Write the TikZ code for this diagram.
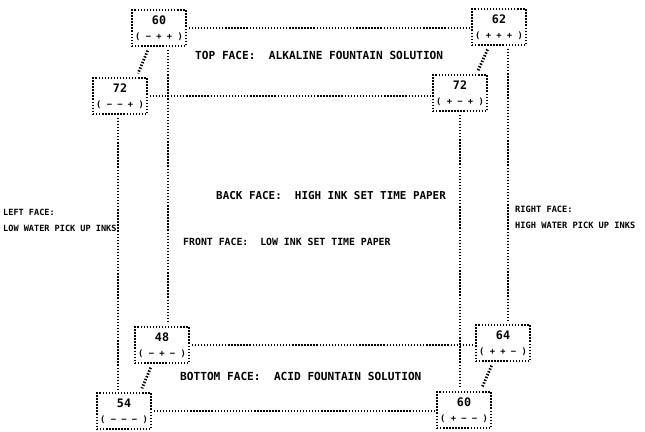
\documentclass[tikz,border=0pt]{standalone}
\usepackage{fontspec}
\setmonofont{DejaVu Sans Mono}
\usetikzlibrary{calc}

\begin{document}
\begin{tikzpicture}[
  x=0.03cm, y=-0.03cm,
  every node/.style={font=\ttfamily\bfseries\fontsize{9}{13.6}\selectfont},
  dots/.style={line width=2.4pt, dash pattern=on 1.2pt off 1.4pt},
  corner/.style={draw, dots, align=center, minimum width=1.62cm, minimum height=1.08cm, inner sep=1pt, font=\ttfamily\bfseries\fontsize{10}{13}\selectfont},
  face/.style={anchor=west, align=left, inner sep=0pt}
]
  \useasboundingbox (0,0) rectangle (645,432);

  % corners of the cube
  \node[corner] (tbl) at (159,28)  {60\\{\fontsize{7.5}{8}\selectfont( − + + )}};
  \node[corner] (tbr) at (499,27)  {62\\{\fontsize{7.5}{8}\selectfont( + + + )}};
  \node[corner] (tfl) at (120,96)  {72\\{\fontsize{7.5}{8}\selectfont( − − + )}};
  \node[corner] (tfr) at (460,93)  {72\\{\fontsize{7.5}{8}\selectfont( + − + )}};
  \node[corner] (bbl) at (162,345) {48\\{\fontsize{7.5}{8}\selectfont( − + − )}};
  \node[corner] (bbr) at (503,343) {64\\{\fontsize{7.5}{8}\selectfont( + + − )}};
  \node[corner] (bfl) at (124,411) {54\\{\fontsize{7.5}{8}\selectfont( − − − )}};
  \node[corner] (bfr) at (464,410) {60\\{\fontsize{7.5}{8}\selectfont( + − − )}};

  % edges
  \foreach \a/\b in {tbl/tbr, tfl/tfr, bbl/bbr, bfl/bfr}
    \draw[dots, shorten <=1pt, shorten >=1pt] (\a.east) -- (\a.east -| \b.west);
  \foreach \a/\b/\s in {tbl/bbl/0.27cm, tbr/bbr/0.27cm, tfl/bfl/-0.06cm, tfr/bfr/0cm}
    \draw[dots, shorten <=2pt, shorten >=2pt] ([xshift=\s]\a.south) -- ([xshift=\s]\a.south |- \b.north);
  \foreach \a/\b in {tbl/tfl, tbr/tfr, bbl/bfl, bbr/bfr}
    \draw[dots, shorten <=3pt, shorten >=3pt] ([xshift=-0.3cm]\a.south) -- ([xshift=0.5cm]\b.north);

  % faces
  \node[face, font=\ttfamily\bfseries\fontsize{9.5}{12}\selectfont] (top) at (195,55) {TOP FACE:\ \ ALKALINE FOUNTAIN SOLUTION};
  \node[face, font=\ttfamily\bfseries\fontsize{9.3}{12}\selectfont] (back) at (216,196) {BACK FACE:\ \ HIGH INK SET TIME PAPER};
  \node[face, font=\ttfamily\bfseries\fontsize{8.4}{12}\selectfont] (front) at (183,242) {FRONT FACE:\ \ LOW INK SET TIME PAPER};
  \node[face, font=\ttfamily\bfseries\fontsize{7.3}{13.6}\selectfont] (left) at (3,220) {LEFT FACE:\\LOW WATER PICK UP INKS};
  \node[face, font=\ttfamily\bfseries\fontsize{7.4}{13.6}\selectfont] (right) at (515,217) {RIGHT FACE:\\HIGH WATER PICK UP INKS};
  \node[face, font=\ttfamily\bfseries\fontsize{9.5}{12}\selectfont] (bottom) at (180,376) {BOTTOM FACE:\ \ ACID FOUNTAIN SOLUTION};
\end{tikzpicture}
\end{document}
